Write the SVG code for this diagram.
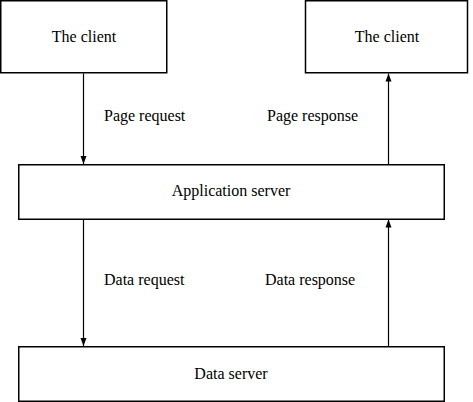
<svg xmlns="http://www.w3.org/2000/svg" width="473" height="402" viewBox="0 0 473 402">
<style>
rect.node{fill:#fff;stroke:#000;stroke-width:1.5}
text{font-family:"Liberation Serif","Times New Roman",serif;font-size:16px;fill:#000}
.c{text-anchor:middle}
.conn line{stroke:#000;stroke-width:1.2}
</style>
<defs>
<marker id="ah" viewBox="0 0 8 8" refX="8" refY="4" markerWidth="8" markerHeight="8" markerUnits="userSpaceOnUse" orient="auto">
<path d="M0,1 L8,4 L0,7 Z" fill="#000"/>
</marker>
</defs>
<rect width="473" height="402" fill="#fff"/>
<g id="client1"><rect class="node" x="0.75" y="0.75" width="166" height="72"/><text class="c" x="84" y="42">The client</text></g>
<g id="client2"><rect class="node" x="305.5" y="0.75" width="162" height="72"/><text class="c" x="387" y="42">The client</text></g>
<g id="appserver"><rect class="node" x="18.75" y="164.75" width="425.5" height="54.5"/><text class="c" x="231" y="196">Application server</text></g>
<g id="dataserver"><rect class="node" x="18.75" y="346.75" width="425.5" height="54.5"/><text class="c" x="231" y="379">Data server</text></g>
<g id="connectors" class="conn">
<line x1="83.5" y1="73.5" x2="83.5" y2="164" marker-end="url(#ah)"/>
<line x1="388.5" y1="164" x2="388.5" y2="73.5" marker-end="url(#ah)"/>
<line x1="83.5" y1="219.5" x2="83.5" y2="346" marker-end="url(#ah)"/>
<line x1="388.5" y1="346" x2="388.5" y2="219.5" marker-end="url(#ah)"/>
</g>
<g id="labels">
<text x="104" y="121">Page request</text>
<text x="267" y="121">Page response</text>
<text x="104" y="285">Data request</text>
<text x="265" y="285">Data response</text>
</g>
</svg>
